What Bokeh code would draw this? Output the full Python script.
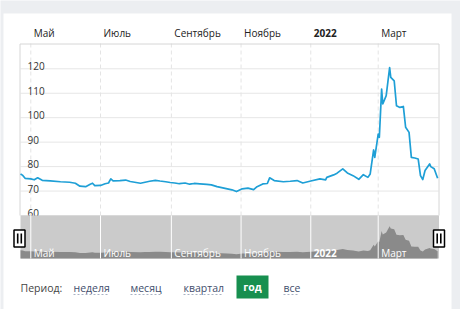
import pandas as pd
from bokeh.plotting import figure
from bokeh.models import Range1d, ColumnDataSource
from bokeh.core.properties import value
from bokeh.embed import file_html
from bokeh.resources import INLINE

# ---------------- data ----------------
dates = [
    "2021-04-22", "2021-04-24", "2021-04-26", "2021-05-01", "2021-05-04", "2021-05-07",
    "2021-05-11", "2021-05-18", "2021-05-27", "2021-06-04", "2021-06-09", "2021-06-13",
    "2021-06-18", "2021-06-22", "2021-06-24", "2021-06-26", "2021-07-01", "2021-07-05",
    "2021-07-08", "2021-07-10", "2021-07-12", "2021-07-18", "2021-07-23", "2021-07-27",
    "2021-08-05", "2021-08-09", "2021-08-13", "2021-08-18", "2021-08-22", "2021-08-27",
    "2021-08-31", "2021-09-04", "2021-09-08", "2021-09-13", "2021-09-17", "2021-09-21",
    "2021-09-26", "2021-10-02", "2021-10-06", "2021-10-11", "2021-10-15", "2021-10-20",
    "2021-10-24", "2021-10-28", "2021-11-02", "2021-11-07", "2021-11-12", "2021-11-15",
    "2021-11-20", "2021-11-24", "2021-11-26", "2021-11-30", "2021-12-08", "2021-12-14",
    "2021-12-20", "2021-12-25", "2022-01-01", "2022-01-09", "2022-01-14", "2022-01-15",
    "2022-01-21", "2022-01-24", "2022-01-29", "2022-02-02", "2022-02-07", "2022-02-12",
    "2022-02-16", "2022-02-20", "2022-02-22", "2022-02-25", "2022-02-26", "2022-03-01",
    "2022-03-02", "2022-03-04", "2022-03-05", "2022-03-08", "2022-03-11", "2022-03-12",
    "2022-03-15", "2022-03-17", "2022-03-20", "2022-03-23", "2022-03-25", "2022-03-28",
    "2022-03-30", "2022-04-02", "2022-04-05", "2022-04-07", "2022-04-09", "2022-04-11",
    "2022-04-15", "2022-04-16", "2022-04-19", "2022-04-22",
]
prices = [
    77.0, 76.4, 75.2, 75.0, 74.6, 75.4,
    74.4, 74.2, 73.8, 73.6, 73.2, 72.0,
    71.8, 72.8, 73.2, 72.2, 72.3, 73.0,
    73.3, 75.0, 74.2, 74.3, 74.5, 73.9,
    73.2, 73.6, 74.0, 74.4, 74.1, 73.8,
    73.5, 73.3, 73.0, 73.3, 72.8, 73.1,
    72.9, 72.7, 72.5, 71.8, 71.4, 70.9,
    70.5, 69.8, 70.9, 71.2, 70.6, 71.8,
    72.9, 73.1, 75.4, 74.3, 73.8, 74.0,
    74.3, 73.3, 74.1, 75.0, 74.6, 75.6,
    76.6, 77.3, 79.1, 77.4, 76.3, 74.8,
    76.7, 75.6, 77.0, 86.8, 83.8, 93.3,
    92.0, 111.7, 105.6, 109.0, 120.5, 116.5,
    115.1, 104.9, 104.2, 104.6, 96.1, 94.0,
    83.8, 83.5, 83.1, 76.3, 74.7, 78.4,
    81.1, 80.0, 79.1, 75.2,
]
month_ticks = ["2021-05-01", "2021-07-01", "2021-09-01", "2021-11-01", "2022-01-01", "2022-03-01"]
month_labels = ["Май", "Июль", "Сентябрь", "Ноябрь", "2022", "Март"]
month_style = ["normal", "normal", "normal", "normal", "bold", "normal"]
y_ticks = [60, 70, 80, 90, 100, 110, 120]
y_labels = ["60", "70", "80", "90", "100", "110", "120"]
period_title = "Период:"
period_labels = ["неделя", "месяц", "квартал", "все"]
period_active = "год"

# ---------------- layout constants (pixels) ----------------
W, H = 460, 309
FONT = value("Open Sans")
EPOCH = pd.Timestamp("1970-01-01")


def to_ms(ts):
    return (pd.to_datetime(ts) - EPOCH) / pd.Timedelta(milliseconds=1)


x_ms = list(to_ms(dates))
m_ms = list(to_ms(month_ticks))

# x scale anchored on two month ticks
ta, pa = to_ms("2021-05-01"), 30.3
tb, pb = to_ms("2022-03-01"), 377.7
ms_per_px = (tb - ta) / (pb - pa)
x_start = ta - pa * ms_per_px
x_end = ta + (W - pa) * ms_per_px

# main y scale: 60 -> 215px, 120 -> 68.3px
upx = (215 - 68.3) / 60.0
y_start = 60 - (H - 215) / upx
y_end = 60 + 215 / upx

# navigator y scale
NAV_BASE = 62.0
nupx = 32.0 / 58.0
n_start = NAV_BASE - (H - 258) / nupx
n_end = NAV_BASE + 258 / nupx

p = figure(
    width=W, height=H,
    x_range=Range1d(x_start, x_end), y_range=Range1d(y_start, y_end),
    x_axis_type=None, y_axis_type=None,
    toolbar_location=None, output_backend="svg",
    min_border=0, outline_line_color=None,
    background_fill_color="#eceef1", border_fill_color="#eceef1",
)
p.extra_x_ranges = {"px": Range1d(0, W)}
p.extra_y_ranges = {"px": Range1d(H, 0), "nav": Range1d(n_start, n_end)}

# white card
p.quad(left=3, right=451, top=13, bottom=H, x_range_name="px", y_range_name="px",
       fill_color="white", line_color=None)

# horizontal grid
p.segment(x0=[20] * len(y_ticks), x1=[438] * len(y_ticks), y0=y_ticks, y1=y_ticks,
          x_range_name="px", line_color="#e6e6e6", line_width=1)
# vertical dashed grid
p.segment(x0=m_ms, x1=m_ms, y0=[43] * len(m_ms), y1=[215] * len(m_ms),
          y_range_name="px", line_color="#e4e4e4", line_width=1, line_dash="4 3")
# plot border
p.segment(x0=[19.5, 19.5, 438.5], x1=[438.5, 19.5, 438.5], y0=[43.5, 43.5, 43.5],
          y1=[43.5, 215, 215], x_range_name="px", y_range_name="px",
          line_color="#d6d6d6", line_width=1)

# y labels (inside plot)
p.text(x=[27] * len(y_ticks), y=y_ticks, text=y_labels, x_range_name="px",
       text_font=FONT, text_font_size="10px", text_color="#333333",
       text_align="left", text_baseline="alphabetic", y_offset=-2.5)

months = ColumnDataSource(dict(x=m_ms, text=month_labels, fs=month_style,
                               top=[32] * len(m_ms), nav=[252] * len(m_ms),
                               y0=[43] * len(m_ms), y1=[215] * len(m_ms),
                               n0=[215] * len(m_ms), n1=[258] * len(m_ms)))

# top month labels
p.text(x="x", y="top", text="text", source=months, y_range_name="px",
       text_font=FONT, text_font_size="10px", text_color="#222222",
       text_font_style="fs", text_align="left", text_baseline="middle", x_offset=3)

# main line
p.line(x=x_ms, y=prices, line_color="#1e9fd6", line_width=1.7, line_join="round")

# navigator
p.quad(left=20, right=438.5, top=215, bottom=258, x_range_name="px", y_range_name="px",
       fill_color="#cbcbcb", line_color=None)
p.varea(x=x_ms, y1=[NAV_BASE] * len(x_ms), y2=prices, y_range_name="nav",
        fill_color="#8a8a8a")
p.segment(x0="x", x1="x", y0="n0", y1="n1", source=months,
          y_range_name="px", line_color="white", line_width=1)
p.text(x="x", y="nav", text="text", source=months, y_range_name="px",
       text_font=FONT, text_font_size="10px", text_color="white",
       text_font_style="fs", text_align="left", text_baseline="middle", x_offset=3)

# handles
for hx in (19, 438.5):
    p.quad(left=hx - 5.5, right=hx + 5.5, top=229.5, bottom=246.5,
           x_range_name="px", y_range_name="px",
           fill_color="white", line_color="black", line_width=1.5)
    p.segment(x0=[hx - 1.8, hx + 1.8], x1=[hx - 1.8, hx + 1.8], y0=[233, 233], y1=[243, 243],
              x_range_name="px", y_range_name="px", line_color="black", line_width=1.6)

# period selector
p.text(x=[20], y=[287.5], text=[period_title], x_range_name="px", y_range_name="px",
       text_font=FONT, text_font_size="10.5px", text_color="#444444",
       text_align="left", text_baseline="middle")
link_x = [73, 130, 183, 283]
link_w = [35, 30, 38, 16]
p.text(x=link_x, y=[287.5] * 4, text=period_labels, x_range_name="px", y_range_name="px",
       text_font=FONT, text_font_size="10.5px", text_color="#3f4e6c",
       text_align="left", text_baseline="middle")
p.segment(x0=link_x, x1=[a + b for a, b in zip(link_x, link_w)], y0=[294] * 4, y1=[294] * 4,
          x_range_name="px", y_range_name="px", line_color="#a9b3c4", line_width=1,
          line_dash="2 2")
p.quad(left=236, right=268, top=275, bottom=298, x_range_name="px", y_range_name="px",
       fill_color="#178f4f", line_color=None)
p.text(x=[252], y=[286.5], text=[period_active], x_range_name="px", y_range_name="px",
       text_font=FONT, text_font_size="10.5px", text_color="white",
       text_align="center", text_baseline="middle", text_font_style="bold")

open("out.html", "w").write(file_html(p, INLINE))
